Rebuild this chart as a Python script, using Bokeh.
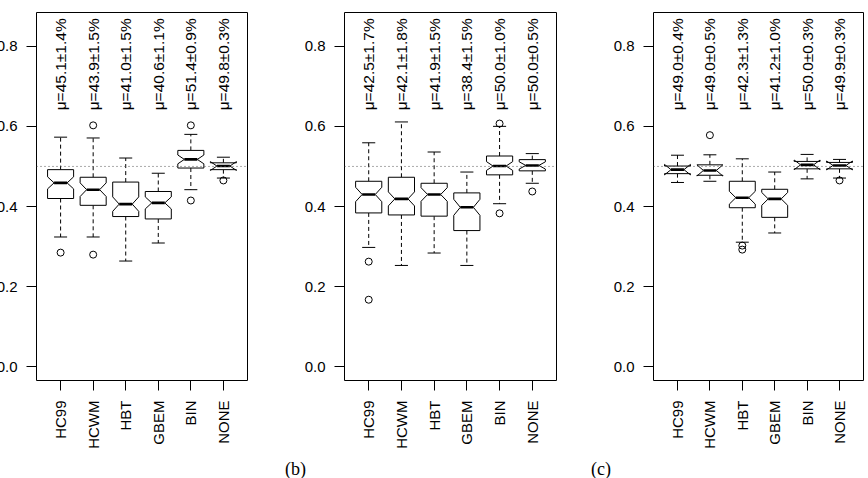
from bokeh.plotting import figure
from bokeh.layouts import row, column
from bokeh.models import FixedTicker, PrintfTickFormatter, Span, Div, ColumnDataSource
from bokeh.core.properties import value
from bokeh.embed import file_html
from bokeh.resources import INLINE
import math

methods = ["HC99", "HCWM", "HBT", "GBEM", "BIN", "NONE"]

# one row per panel (a), (b), (c); one value per method
whisk_lo = [
    [0.324, 0.324, 0.264, 0.309, 0.442, 0.471],
    [0.298, 0.253, 0.284, 0.253, 0.407, 0.458],
    [0.460, 0.463, 0.311, 0.334, 0.469, 0.471],
]
q1 = [
    [0.420, 0.403, 0.375, 0.369, 0.496, 0.492],
    [0.384, 0.379, 0.376, 0.340, 0.479, 0.489],
    [0.482, 0.478, 0.397, 0.373, 0.494, 0.494],
]
med = [
    [0.459, 0.442, 0.406, 0.409, 0.5175, 0.501],
    [0.430, 0.419, 0.430, 0.398, 0.501, 0.5025],
    [0.492, 0.490, 0.422, 0.419, 0.504, 0.5025],
]
q3 = [
    [0.492, 0.473, 0.461, 0.4375, 0.540, 0.509],
    [0.463, 0.473, 0.458, 0.434, 0.526, 0.517],
    [0.501, 0.504, 0.463, 0.443, 0.5125, 0.510],
]
whisk_hi = [
    [0.573, 0.571, 0.521, 0.483, 0.580, 0.523],
    [0.559, 0.611, 0.536, 0.486, 0.600, 0.532],
    [0.528, 0.529, 0.519, 0.486, 0.530, 0.5175],
]
notch_half = [
    [0.015, 0.017, 0.018, 0.015, 0.011, 0.011],
    [0.018, 0.0175, 0.017, 0.020, 0.011, 0.009],
    [0.013, 0.014, 0.016, 0.016, 0.012, 0.011],
]
# outliers: method index (1-based) and value
out_idx = [
    [1, 2, 2, 5, 5, 6],
    [1, 1, 5, 5, 6],
    [2, 3, 3, 6],
]
out_val = [
    [0.285, 0.6025, 0.280, 0.6025, 0.415, 0.465],
    [0.2625, 0.1675, 0.607, 0.383, 0.4375],
    [0.578, 0.3025, 0.2925, 0.465],
]
mu_labels = [
    ["μ=45.1±1.4%", "μ=43.9±1.5%", "μ=41.0±1.5%", "μ=40.6±1.1%", "μ=51.4±0.9%", "μ=49.8±0.3%"],
    ["μ=42.5±1.7%", "μ=42.1±1.8%", "μ=41.9±1.5%", "μ=38.4±1.5%", "μ=50.0±1.0%", "μ=50.0±0.5%"],
    ["μ=49.0±0.4%", "μ=49.0±0.5%", "μ=42.3±1.3%", "μ=41.2±1.0%", "μ=50.0±0.3%", "μ=49.9±0.3%"],
]
y_ticks = [0.0, 0.2, 0.4, 0.6, 0.8]
captions = ["(b)", "(c)"]

FONT = "Liberation Sans"
BOXW = 0.4    # half box width
MEDW = 0.2    # half median width (notch indent)
STAPLE = 0.2  # half staple width


def make_panel(k, frame_w, right_border):
    p = figure(frame_width=frame_w, frame_height=368,
               x_range=(0.26, 6.74), y_range=(-0.034, 0.884),
               output_backend="svg", toolbar_location=None,
               min_border_left=50, min_border_right=right_border,
               min_border_top=12, min_border_bottom=75)
    p.xgrid.visible = False
    p.ygrid.visible = False
    p.outline_line_color = "black"
    p.outline_line_width = 1
    p.background_fill_color = "white"
    p.border_fill_color = "white"

    xs = list(range(1, len(methods) + 1))

    xa = p.xaxis[0]
    xa.ticker = FixedTicker(ticks=xs)
    xa.major_label_overrides = {i: m for i, m in zip(xs, methods)}
    xa.major_label_orientation = math.pi / 2
    xa.axis_line_color = None
    xa.major_tick_out = 10
    xa.major_tick_in = 0
    xa.minor_tick_line_color = None
    xa.major_label_standoff = 10
    xa.major_label_text_font = FONT
    xa.major_label_text_font_size = "15px"
    xa.major_label_text_color = "black"

    ya = p.yaxis[0]
    ya.ticker = FixedTicker(ticks=y_ticks)
    ya.formatter = PrintfTickFormatter(format="%.1f")
    ya.axis_line_color = None
    ya.major_tick_out = 10
    ya.major_tick_in = 0
    ya.minor_tick_line_color = None
    ya.major_label_standoff = 9
    ya.major_label_text_font = FONT
    ya.major_label_text_font_size = "15px"
    ya.major_label_text_color = "black"

    p.add_layout(Span(location=0.5, dimension="width", line_color="#555555",
                      line_dash="1 3", line_width=1))

    # whiskers
    p.segment(x0=xs, y0=q3[k], x1=xs, y1=whisk_hi[k], line_color="black",
              line_dash="4 3", line_width=1)
    p.segment(x0=xs, y0=q1[k], x1=xs, y1=whisk_lo[k], line_color="black",
              line_dash="4 3", line_width=1)
    # staples
    p.segment(x0=[x - STAPLE for x in xs], y0=whisk_hi[k],
              x1=[x + STAPLE for x in xs], y1=whisk_hi[k], line_color="black", line_width=1)
    p.segment(x0=[x - STAPLE for x in xs], y0=whisk_lo[k],
              x1=[x + STAPLE for x in xs], y1=whisk_lo[k], line_color="black", line_width=1)

    # notched boxes
    pxs, pys = [], []
    for j, x in enumerate(xs):
        lo, m, hi, n = q1[k][j], med[k][j], q3[k][j], notch_half[k][j]
        pxs.append([x - BOXW, x - BOXW, x - MEDW, x - BOXW, x - BOXW,
                    x + BOXW, x + BOXW, x + MEDW, x + BOXW, x + BOXW])
        pys.append([lo, m - n, m, m + n, hi, hi, m + n, m, m - n, lo])
    p.patches(xs=pxs, ys=pys, fill_color="white", line_color="black", line_width=1)

    # medians
    p.segment(x0=[x - MEDW for x in xs], y0=med[k], x1=[x + MEDW for x in xs], y1=med[k],
              line_color="black", line_width=2.6)

    # outliers
    p.scatter(x=out_idx[k], y=out_val[k], marker="circle", size=7,
              fill_color=None, line_color="black", line_width=1)

    # mean labels
    src = ColumnDataSource(dict(x=xs, y=[0.64] * len(xs), t=mu_labels[k]))
    p.text(x="x", y="y", text="t", source=src, angle=math.pi / 2,
           text_align="left", text_baseline="middle",
           text_font=value(FONT), text_font_size="15.5px", text_color="black")
    return p


p1 = make_panel(0, 211, 47)
p2 = make_panel(1, 212, 47)
p3 = make_panel(2, 210, 4)

cap_html = (
    '<div style="position:relative;width:880px;height:23px;'
    'font-family:\'Liberation Serif\';font-size:18px;line-height:18px;color:black;">'
    '<span style="position:absolute;left:299px;top:5px;">' + captions[0] + '</span>'
    '<span style="position:absolute;left:605px;top:5px;">' + captions[1] + '</span>'
    '</div>'
)
cap = Div(text=cap_html, width=880, height=23, margin=(0, 0, 0, 0))

layout = column(row(p1, p2, p3, spacing=0), cap, spacing=0, margin=(0, 0, 0, -14))

open("out.html", "w").write(file_html(layout, INLINE))
